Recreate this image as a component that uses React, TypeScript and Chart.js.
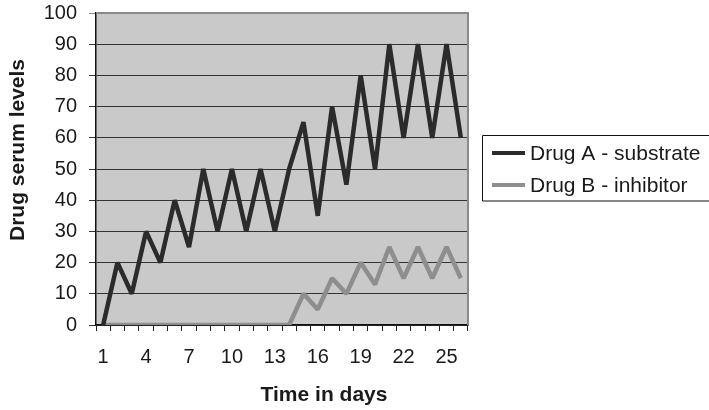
import React, { useEffect, useRef } from "react";
import { Chart, registerables } from "chart.js";

Chart.register(...registerables);

const days: string[] = [
  "1","2","3","4","5","6","7","8","9","10","11","12","13",
  "14","15","16","17","18","19","20","21","22","23","24","25","26",
];
const drugA: number[] = [0, 20, 10, 30, 20, 40, 25, 50, 30, 50, 30, 50, 30, 50, 65, 35, 70, 45, 80, 50, 90, 60, 90, 60, 90, 60];
const drugB: number[] = [0, 0, 0, 0, 0, 0, 0, 0, 0, 0, 0, 0, 0, 0, 10, 5, 15, 10, 20, 13, 25, 15, 25, 15, 25, 15];
const seriesNames: string[] = ["Drug A - substrate", "Drug B - inhibitor"];
const seriesColors: string[] = ["#2b2b2b", "#8e8e8e"];
const xTitle = "Time in days";
const yTitle = "Drug serum levels";

const FONT = "'Liberation Sans', Arial, sans-serif";

const decorPlugin = {
  id: "decor",
  beforeDraw(chart: any) {
    const { ctx, chartArea: ca } = chart;
    ctx.save();
    ctx.fillStyle = "#c9c9c9";
    ctx.fillRect(ca.left, ca.top, ca.right - ca.left, ca.bottom - ca.top);
    ctx.restore();
  },
  afterDatasetsDraw(chart: any) {
    const { ctx, chartArea: ca } = chart;
    ctx.save();
    // top & right plot border
    ctx.strokeStyle = "#8a8a8a";
    ctx.lineWidth = 2;
    ctx.beginPath();
    ctx.moveTo(ca.left, ca.top);
    ctx.lineTo(ca.right, ca.top);
    ctx.lineTo(ca.right, ca.bottom);
    ctx.stroke();

    // axis titles
    ctx.fillStyle = "#1a1a1a";
    ctx.font = `bold 21px ${FONT}`;
    ctx.textAlign = "center";
    ctx.textBaseline = "alphabetic";
    ctx.fillText(xTitle, ca.left + 228, ca.bottom + 76);
    ctx.save();
    ctx.translate(24, ca.top + 137);
    ctx.rotate(-Math.PI / 2);
    ctx.fillText(yTitle, 0, 0);
    ctx.restore();

    // legend
    const lx = ca.right + 14;
    const ly = ca.top + 122;
    ctx.strokeStyle = "#111";
    ctx.lineWidth = 1;
    ctx.beginPath();
    ctx.moveTo(chart.width + 5, ly + 0.5);
    ctx.lineTo(lx + 0.5, ly + 0.5);
    ctx.lineTo(lx + 0.5, ly + 66);
    ctx.lineTo(chart.width + 5, ly + 66);
    ctx.stroke();
    ctx.font = `21px ${FONT}`;
    ctx.textAlign = "left";
    ctx.textBaseline = "middle";
    chart.data.datasets.forEach((ds: any, i: number) => {
      const y = ly + 18 + i * 32;
      ctx.strokeStyle = ds.borderColor;
      ctx.lineWidth = 4;
      ctx.beginPath();
      ctx.moveTo(lx + 10, y);
      ctx.lineTo(lx + 43, y);
      ctx.stroke();
      ctx.fillStyle = "#1a1a1a";
      ctx.fillText(ds.label, lx + 48, y + 1);
    });
    ctx.restore();
  },
};

export default function App() {
  const ref = useRef<HTMLCanvasElement>(null);
  useEffect(() => {
    if (!ref.current) return;
    const chart = new Chart(ref.current, {
      type: "line",
      data: {
        labels: days,
        datasets: [
          {
            label: seriesNames[0],
            data: drugA,
            borderColor: seriesColors[0],
            backgroundColor: seriesColors[0],
            borderWidth: 4.5,
            borderJoinStyle: "bevel",
            pointRadius: 0,
            tension: 0,
          },
          {
            label: seriesNames[1],
            data: drugB,
            borderColor: seriesColors[1],
            backgroundColor: seriesColors[1],
            borderWidth: 4.5,
            borderJoinStyle: "bevel",
            pointRadius: 0,
            tension: 0,
          },
        ],
      },
      options: {
        responsive: false,
        animation: false,
        layout: { padding: { left: 0, top: 13, right: 241, bottom: 0 } },
        plugins: { legend: { display: false }, tooltip: { enabled: false } },
        scales: {
          x: {
            type: "category",
            offset: true,
            grid: {
              offset: true,
              drawOnChartArea: false,
              drawTicks: true,
              tickLength: 6,
              color: "#222",
            },
            border: { color: "#111", width: 1.5 },
            ticks: {
              autoSkip: false,
              maxRotation: 0,
              minRotation: 0,
              padding: 14,
              color: "#1a1a1a",
              font: { family: FONT, size: 20 },
              callback: (_v: any, i: number) => (i % 3 === 0 ? days[i] : ""),
            },
            afterFit: (s: any) => {
              s.height = 85;
              s.paddingLeft = 0;
              s.paddingRight = 0;
            },
          },
          y: {
            min: 0,
            max: 100,
            grid: {
              drawTicks: true,
              tickLength: 7,
              color: (c: any) => (c.tick && c.tick.value === 100 ? "#8a8a8a" : "#333"),
            },
            border: { color: "#111", width: 1.5 },
            ticks: {
              stepSize: 10,
              padding: 12,
              color: "#1a1a1a",
              font: { family: FONT, size: 20 },
            },
            afterFit: (s: any) => {
              s.width = 96;
              s.paddingTop = 0;
              s.paddingBottom = 0;
            },
          },
        },
      },
      plugins: [decorPlugin],
    });
    return () => chart.destroy();
  }, []);
  return (
    <div style={{ position: "absolute", left: 0, top: 0, width: 709, height: 410, background: "#fff" }}>
      <canvas ref={ref} width={709} height={410} />
    </div>
  );
}
